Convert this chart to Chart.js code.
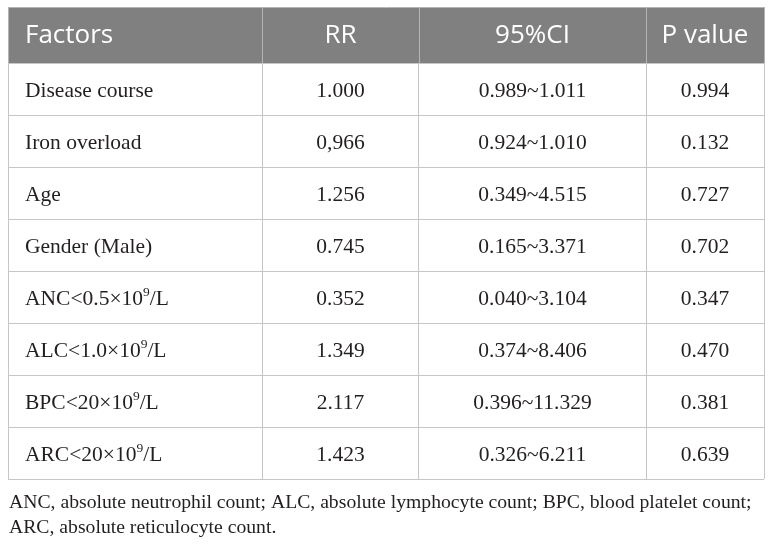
<!DOCTYPE html>
<html>
<head>
<meta charset="utf-8">
<script src="https://cdn.jsdelivr.net/npm/chart.js@4.4.0/dist/chart.umd.min.js"></script>
<style>
  html, body { margin: 0; padding: 0; background: #fff; }
  #wrap { width: 772px; height: 546px; }
</style>
</head>
<body>
<div id="wrap"><canvas id="tabela"></canvas></div>
<script>
// dados da tabela
const headers = ['Factors', 'RR', '95%CI', 'P value'];
const factors = ['Disease course', 'Iron overload', 'Age', 'Gender (Male)',
  'ANC<0.5×10^9/L', 'ALC<1.0×10^9/L', 'BPC<20×10^9/L', 'ARC<20×10^9/L'];
const rr = ['1.000', '0,966', '1.256', '0.745', '0.352', '1.349', '2.117', '1.423'];
const ci = ['0.989~1.011', '0.924~1.010', '0.349~4.515', '0.165~3.371',
  '0.040~3.104', '0.374~8.406', '0.396~11.329', '0.326~6.211'];
const pValue = ['0.994', '0.132', '0.727', '0.702', '0.347', '0.470', '0.381', '0.639'];
const footnote = [
  'ANC, absolute neutrophil count; ALC, absolute lymphocyte count; BPC, blood platelet count;',
  'ARC, absolute reticulocyte count.'
];

// layout
const COL_EDGES = [0, 254, 411, 638, 756];
const TEXT_INDENT = 17;
const HEADER_TOP = 8;
const GRID = '#c6c6c6';
const HEADER_BG = '#808080';
const INK = '#231f20';
const SERIF = '"Liberation Serif", "Times New Roman", serif';
const SANS = '"Open Sans", "Noto Sans", sans-serif';

const colCenter = c => (COL_EDGES[c] + COL_EDGES[c + 1]) / 2;
const columns = [factors, rr, ci, pValue];

function cellData(c) {
  return factors.map((f, i) => ({
    x: c === 0 ? COL_EDGES[0] + TEXT_INDENT : colCenter(c),
    y: f,
    text: columns[c][i]
  }));
}

// texto com expoente: 'ANC<0.5×10^9/L'
function drawRich(ctx, str, x, y, align) {
  const parts = str.split(/\^(.)/);
  const mainFont = '21.5px ' + SERIF;
  const supFont = '13.5px ' + SERIF;
  let total = 0;
  parts.forEach((p, k) => {
    ctx.font = k % 2 ? supFont : mainFont;
    total += ctx.measureText(p).width;
  });
  let cx = align === 'center' ? x - total / 2 : x;
  ctx.textAlign = 'left';
  parts.forEach((p, k) => {
    const sup = k % 2 === 1;
    ctx.font = sup ? supFont : mainFont;
    ctx.fillText(p, cx, sup ? y - 9 : y);
    cx += ctx.measureText(p).width;
  });
}

const tablePlugin = {
  id: 'tablePlugin',
  afterDraw(chart) {
    const ctx = chart.ctx;
    const x = chart.scales.x;
    const area = chart.chartArea;
    ctx.save();

    // cabecalho
    ctx.fillStyle = HEADER_BG;
    ctx.fillRect(area.left, HEADER_TOP, area.right - area.left, area.top - HEADER_TOP);
    ctx.strokeStyle = '#b4b4b4';
    ctx.lineWidth = 1;
    ctx.beginPath();
    COL_EDGES.forEach(v => {
      const px = Math.round(x.getPixelForValue(v)) + 0.5;
      ctx.moveTo(px, HEADER_TOP);
      ctx.lineTo(px, area.top);
    });
    ctx.moveTo(area.left, HEADER_TOP - 0.5);
    ctx.lineTo(area.right + 1, HEADER_TOP - 0.5);
    ctx.stroke();

    ctx.fillStyle = '#fff';
    ctx.font = '26px ' + SANS;
    ctx.textBaseline = 'alphabetic';
    headers.forEach((h, c) => {
      if (c === 0) {
        ctx.textAlign = 'left';
        ctx.fillText(h, x.getPixelForValue(COL_EDGES[0] + TEXT_INDENT), 43);
      } else {
        ctx.textAlign = 'center';
        ctx.fillText(h, x.getPixelForValue(colCenter(c)), 43);
      }
    });

    // celulas
    ctx.fillStyle = INK;
    chart.data.datasets.forEach((ds, d) => {
      const meta = chart.getDatasetMeta(d);
      meta.data.forEach((pt, i) => {
        drawRich(ctx, ds.data[i].text, pt.x, pt.y + 7.5, d === 0 ? 'left' : 'center');
      });
    });

    // nota de rodape
    ctx.font = '19.7px ' + SERIF;
    ctx.textAlign = 'left';
    footnote.forEach((line, k) => {
      ctx.fillText(line, 9, area.bottom + 29 + k * 25);
    });
    ctx.restore();
  }
};

new Chart(document.getElementById('tabela'), {
  type: 'scatter',
  data: {
    datasets: columns.map((col, c) => ({
      label: headers[c],
      data: cellData(c),
      pointRadius: 0,
      pointHoverRadius: 0
    }))
  },
  options: {
    responsive: true,
    maintainAspectRatio: false,
    animation: false,
    events: [],
    layout: { padding: { left: 8, right: 8, top: 63, bottom: 67 } },
    plugins: { legend: { display: false }, tooltip: { enabled: false } },
    scales: {
      x: {
        type: 'linear',
        min: COL_EDGES[0],
        max: COL_EDGES[COL_EDGES.length - 1],
        afterBuildTicks: s => { s.ticks = COL_EDGES.map(v => ({ value: v })); },
        afterFit: s => { s.height = 0; },
        ticks: { display: false },
        grid: { color: GRID, lineWidth: 1, drawTicks: false },
        border: { display: false }
      },
      y: {
        type: 'category',
        labels: factors,
        offset: true,
        afterFit: s => { s.width = 0; },
        ticks: { display: false },
        grid: { color: GRID, lineWidth: 1, offset: true, drawTicks: false },
        border: { display: false }
      }
    }
  },
  plugins: [tablePlugin]
});
</script>
</body>
</html>
